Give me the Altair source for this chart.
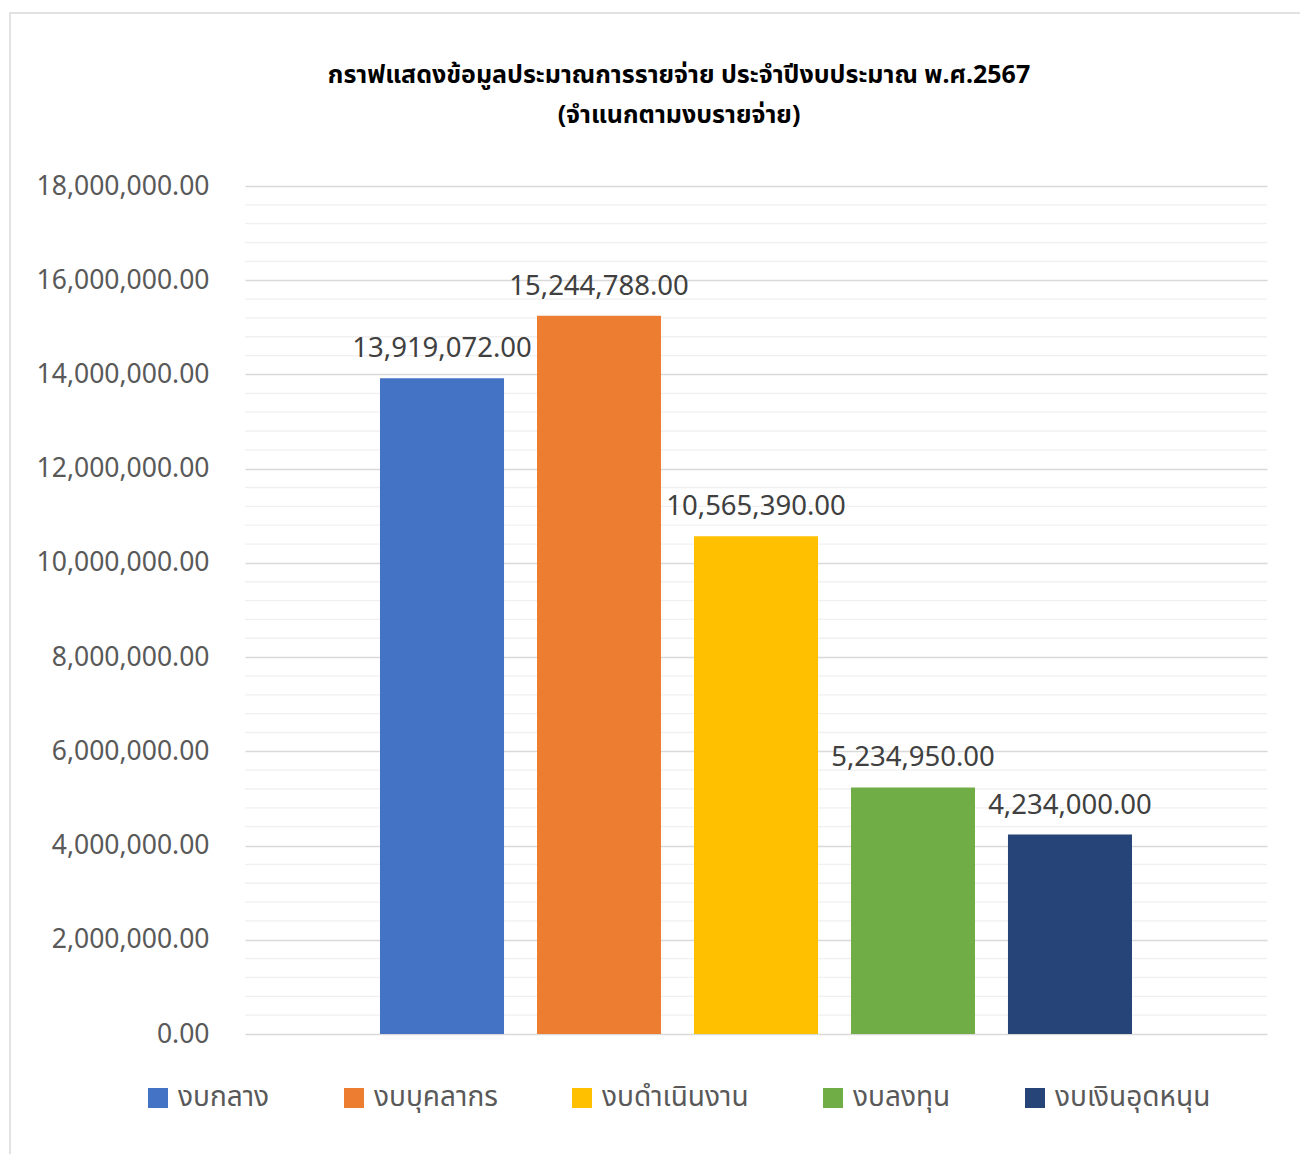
import altair as alt
import pandas as pd

categories = ["งบกลาง", "งบบุคลากร", "งบดำเนินงาน", "งบลงทุน", "งบเงินอุดหนุน"]
values = [13919072.00, 15244788.00, 10565390.00, 5234950.00, 4234000.00]
colors = ["#4472C4", "#ED7D31", "#FFC000", "#70AD47", "#264478"]
major_ticks = [0, 2000000, 4000000, 6000000, 8000000, 10000000, 12000000, 14000000, 16000000, 18000000]
minor_ticks = [i * 400000 for i in range(1, 45) if i % 5 != 0]

title_lines = ["กราฟแสดงข้อมูลประมาณการรายจ่าย ประจำปีงบประมาณ พ.ศ.2567", "(จำแนกตามงบรายจ่าย)"]

FONT = "Noto Sans, Noto Sans Thai, Loma, Garuda, sans-serif"

df = pd.DataFrame({"category": categories, "value": values})
minor_df = pd.DataFrame({"tick": minor_ticks})
one = pd.DataFrame({"a": [0]})

xscale = alt.Scale(domain=categories, paddingInner=0.21, paddingOuter=0.86)
yscale = alt.Scale(domain=[0, 18000000], nice=False)

yaxis = alt.Axis(
    values=major_ticks,
    format=",.2f",
    grid=True,
    gridColor="#d9d9d9",
    gridWidth=1.6,
    domain=False,
    ticks=False,
    labelFontSize=26.5,
    labelColor="#595959",
    labelFont=FONT,
    labelPadding=36,
    title=None,
)

border = alt.Chart(one).mark_rect(
    filled=False, stroke="#d9d9d9", strokeWidth=1.5, clip=False
).encode(
    x=alt.value(-235), x2=alt.value(1300), y=alt.value(-173), y2=alt.value(1200)
)

title = alt.Chart(one).mark_text(
    fontSize=25,
    fontWeight="bold",
    color="#000000",
    font=FONT,
    align="center",
    baseline="alphabetic",
    lineHeight=40,
).encode(
    x=alt.value(434), y=alt.value(-103), text=alt.value(title_lines)
)

minor = alt.Chart(minor_df).mark_rule(color="#f0f0f0", strokeWidth=1.3).encode(
    y=alt.Y("tick:Q", scale=yscale, axis=yaxis)
)

bars = alt.Chart(df).mark_bar().encode(
    x=alt.X("category:N", sort=categories, scale=xscale, axis=None),
    y=alt.Y("value:Q", scale=yscale, axis=yaxis),
    color=alt.Color(
        "category:N",
        sort=categories,
        scale=alt.Scale(domain=categories, range=colors),
        legend=alt.Legend(
            orient="none",
            legendX=-101,
            legendY=898,
            direction="horizontal",
            symbolType="square",
            symbolSize=400,
            symbolStrokeWidth=0,
            labelFontSize=28,
            labelFont=FONT,
            labelColor="#595959",
            columnPadding=70,
            labelOffset=6,
            title=None,
        ),
    ),
)

labels = alt.Chart(df).mark_text(
    baseline="alphabetic", dy=-21, fontSize=27.5, color="#404040", font=FONT
).encode(
    x=alt.X("category:N", sort=categories, scale=xscale, axis=None),
    y=alt.Y("value:Q", scale=yscale, axis=yaxis),
    text=alt.Text("value:Q", format=",.2f"),
)

chart = alt.layer(border, title, minor, bars, labels).properties(
    width=1022,
    height=848,
    autosize=alt.AutoSizeParams(type="none"),
    padding={"left": 237, "top": 178, "right": 33, "bottom": 120},
    background="white",
).configure_view(stroke=None)

chart.save("out.html", embed_options={"renderer": "svg", "actions": False})
